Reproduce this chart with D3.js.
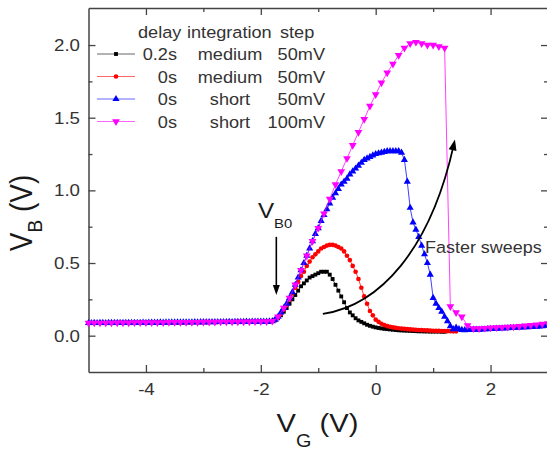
<!DOCTYPE html>
<html><head><meta charset="utf-8">
<script src="https://cdn.jsdelivr.net/npm/d3@7"></script>
<style>
html,body{margin:0;padding:0;background:#fff;}
svg{display:block;}
text{font-family:"Liberation Sans",Arial,sans-serif;}
</style></head><body>
<svg id="chart" width="547" height="451"></svg>
<script>
// ---------------- data ----------------
const xStart = -5;            // first gate voltage of each sweep (V)
const step50 = 0.05;          // 50 mV sweep step
const step100 = 0.1;          // 100 mV sweep step

// flat part of the sweeps, -5 V .. -1.85 V (50 mV step)
const flat50 = [0.087,0.087,0.088,0.087,0.088,0.088,0.087,0.088,0.088,0.088,
  0.088,0.089,0.088,0.089,0.089,0.088,0.089,0.089,0.089,0.090,
  0.089,0.090,0.090,0.090,0.090,0.091,0.090,0.091,0.091,0.091,
  0.091,0.092,0.091,0.092,0.092,0.092,0.092,0.093,0.092,0.093,
  0.093,0.093,0.093,0.094,0.093,0.094,0.094,0.094,0.094,0.095,
  0.094,0.095,0.095,0.095,0.095,0.096,0.095,0.096,0.096,0.096,
  0.096,0.097,0.097,0.098];
// flat part, -5 V .. -1.9 V (100 mV step)
const flat100 = [0.087,0.088,0.088,0.088,0.088,0.089,0.089,0.089,0.090,0.090,
  0.090,0.091,0.091,0.091,0.092,0.092,0.092,0.093,0.093,0.093,
  0.094,0.094,0.094,0.095,0.095,0.095,0.096,0.096,0.096,0.097,
  0.097,0.098];

// 0.2s / medium / 50mV, from -1.8 V to 1.2 V
const blackTail = [0.10,0.105,0.12,0.14,0.165,0.19,0.22,0.25,0.28,0.31,0.34,0.36,0.38,0.40,0.41,0.42,0.43,
  0.44,0.44,0.44,0.42,0.39,0.35,0.31,0.27,0.23,0.19,0.16,0.14,0.12,0.105,0.095,0.085,0.075,0.068,0.062,0.057,
  0.053,0.05,0.047,0.045,0.043,0.041,0.039,0.037,0.036,0.035,0.034,0.033,0.032,0.031,0.03,0.03,0.029,0.029,0.028,0.028,
  0.028,0.028,0.027,0.027];
// 0s / medium / 50mV, from -1.8 V to 1.4 V
const redTail = [0.10,0.11,0.125,0.15,0.18,0.21,0.25,0.29,0.33,0.37,0.41,0.44,0.48,0.51,0.54,0.56,0.58,
  0.60,0.61,0.62,0.625,0.625,0.62,0.61,0.60,0.58,0.55,0.52,0.48,0.44,0.39,0.33,0.27,0.22,0.17,0.14,0.11,
  0.095,0.082,0.073,0.066,0.061,0.057,0.054,0.051,0.049,0.047,0.045,0.043,0.042,0.04,0.039,0.038,0.037,0.036,0.035,0.034,
  0.033,0.033,0.032,0.032,0.031,0.031,0.03,0.03];
// 0s / short / 50mV, from -1.8 V to 3.0 V
const blueTail = [0.10,0.11,0.13,0.16,0.19,0.22,0.26,0.30,0.35,0.40,0.45,0.50,0.55,0.60,0.65,0.70,0.74,
  0.79,0.83,0.87,0.91,0.95,0.98,1.01,1.04,1.06,1.08,1.11,1.13,1.15,1.17,1.19,1.21,1.22,1.23,1.24,1.25,
  1.255,1.26,1.265,1.27,1.27,1.27,1.27,1.27,1.26,1.21,1.06,0.88,0.78,0.73,0.68,0.62,0.56,0.50,0.42,0.26,
  0.22,0.19,0.165,0.13,0.10,0.065,0.045,0.055,0.045,0.04,0.038,0.04,
  0.04,0.041,0.042,0.042,0.043,0.044,0.045,0.046,0.047,0.048,0.049,0.05,0.051,0.052,0.053,0.054,0.055,0.056,0.057,0.058,
  0.059,0.06,0.061,0.062,0.064,0.066,0.068,0.07];
// 0s / short / 100mV, from -1.8 V to 3.0 V
const magentaTail = [0.10,0.13,0.19,0.26,0.35,0.45,0.55,0.65,0.74,0.84,0.94,1.04,1.13,1.22,1.31,1.40,1.49,1.58,1.66,1.74,
  1.81,1.87,1.93,1.98,2.01,2.02,2.01,2.00,2.00,1.99,1.98,
  0.20,0.16,0.13,0.07,0.05,0.05,0.052,0.054,0.056,0.058,0.06,0.062,0.065,0.068,0.072,0.076,0.08,0.084];

const legendHeader = ["delay", "integration", "step"];
const legendDelay = ["0.2s", "0s", "0s", "0s"];
const legendIntegration = ["medium", "medium", "short", "short"];
const legendStep = ["50mV", "50mV", "50mV", "100mV"];

const xTicks = [-4, -2, 0, 2];
const xMinorTicks = [-3, -1, 1];
const yTicks = [0, 0.5, 1.0, 1.5, 2.0];
const yMinorTicks = [0.25, 0.75, 1.25, 1.75];

// ---------------- chart ----------------
const SX = 1.1; // horizontal text stretch of the original picture
const svg = d3.select("#chart");
const pLeft = 88.5, pRight = 548, pTop = 8, pBottom = 372;
const x = d3.scaleLinear().domain([-5, 3]).range([pLeft, pRight]);
const y = d3.scaleLinear().domain([-0.25, 2.255]).range([pBottom, pTop]);
const axisColor = "#444";
const font = '"Liberation Sans", Arial, sans-serif';

function styleAxis(g, keepDomain) {
  if (keepDomain) g.select(".domain").attr("stroke", axisColor).attr("stroke-width", 1.5);
  else g.select(".domain").remove();
  g.selectAll(".tick line").attr("stroke", axisColor).attr("stroke-width", 1.3);
}

// bottom axis
const gx = svg.append("g").attr("transform", `translate(0,${pBottom})`)
  .call(d3.axisBottom(x).tickValues(xTicks).tickSizeInner(-7).tickSizeOuter(0).tickPadding(11).tickFormat(d => String(d)));
styleAxis(gx, true);
gx.selectAll(".tick text").attr("fill", "#333").attr("font-size", 17).attr("font-family", font)
  .attr("transform", `scale(${SX},1)`);
const gxm = svg.append("g").attr("transform", `translate(0,${pBottom})`)
  .call(d3.axisBottom(x).tickValues(xMinorTicks).tickSizeInner(-4).tickSizeOuter(0).tickFormat(""));
styleAxis(gxm, false);

// top axis
const gt = svg.append("g").attr("transform", `translate(0,${pTop})`)
  .call(d3.axisTop(x).tickValues(xTicks).tickSizeInner(-7).tickSizeOuter(0).tickFormat(""));
styleAxis(gt, true);
const gtm = svg.append("g").attr("transform", `translate(0,${pTop})`)
  .call(d3.axisTop(x).tickValues(xMinorTicks).tickSizeInner(-4).tickSizeOuter(0).tickFormat(""));
styleAxis(gtm, false);

// left axis
const gy = svg.append("g").attr("transform", `translate(${pLeft},0)`)
  .call(d3.axisLeft(y).tickValues(yTicks).tickSizeInner(-7).tickSizeOuter(0).tickFormat(d3.format(".1f")));
styleAxis(gy, true);
gy.selectAll(".tick text").attr("fill", "#333").attr("font-size", 17).attr("font-family", font)
  .attr("x", -8.5 / SX).attr("transform", `scale(${SX},1)`);
const gym = svg.append("g").attr("transform", `translate(${pLeft},0)`)
  .call(d3.axisLeft(y).tickValues(yMinorTicks).tickSizeInner(-4).tickSizeOuter(0).tickFormat(""));
styleAxis(gym, false);

// right axis
const gr = svg.append("g").attr("transform", `translate(${pRight},0)`)
  .call(d3.axisRight(y).tickValues(yTicks).tickSizeInner(-7).tickSizeOuter(0).tickFormat(""));
styleAxis(gr, true);
const grm = svg.append("g").attr("transform", `translate(${pRight},0)`)
  .call(d3.axisRight(y).tickValues(yMinorTicks).tickSizeInner(-4).tickSizeOuter(0).tickFormat(""));
styleAxis(grm, false);

// axis titles
const xt = svg.append("text").attr("transform", `translate(317.5,432) scale(${SX},1)`)
  .attr("text-anchor", "middle").attr("fill", "#1a1a1a").attr("font-size", 26.5);
xt.append("tspan").text("V");
xt.append("tspan").attr("font-size", 18).attr("dy", 15).text("G");
xt.append("tspan").attr("dy", -15).text(" (V)");

const yt = svg.append("text").attr("transform", `translate(32,213) scale(${SX},1) rotate(-90)`)
  .attr("text-anchor", "middle").attr("fill", "#1a1a1a").attr("font-size", 28);
yt.append("tspan").text("V");
yt.append("tspan").attr("font-size", 19).attr("dy", 9).text("B");
yt.append("tspan").attr("dy", -9).text(" (V)");

// series
const series = [
  {values: flat50.concat(blackTail), step: step50, color: "#000000", symbol: d3.symbolSquare, size: 15, rot: 0},
  {values: flat50.concat(redTail), step: step50, color: "#ff0000", symbol: d3.symbolCircle, size: 17, rot: 0},
  {values: flat50.concat(blueTail), step: step50, color: "#0000ff", symbol: d3.symbolTriangle, size: 22, rot: 0},
  {values: flat100.concat(magentaTail), step: step100, color: "#ff00ff", symbol: d3.symbolTriangle, size: 26, rot: 180}
];
series.forEach(s => {
  s.points = s.values.map((v, i) => ({gx: +(xStart + i * s.step).toFixed(3), v: v}));
});

const line = d3.line().x(d => x(d.gx)).y(d => y(d.v));
const plot = svg.append("g");
series.forEach(s => {
  const g = plot.append("g");
  g.append("path").attr("d", line(s.points)).attr("fill", "none")
    .attr("stroke", s.color).attr("stroke-width", 1).attr("stroke-opacity", 0.75);
  const sym = d3.symbol().type(s.symbol).size(s.size)();
  g.selectAll("path.m").data(s.points).join("path").attr("class", "m")
    .attr("d", sym)
    .attr("transform", d => `translate(${x(d.gx)},${y(d.v)}) rotate(${s.rot})`)
    .attr("fill", s.color);
});

// legend
const rowY = [54, 76.5, 99, 121.5];
const leg = svg.append("g").attr("fill", "#333").attr("font-size", 16.5);
function stext(g, tx, ty, anchor, str) {
  return g.append("text").attr("transform", `translate(${tx},${ty}) scale(${SX},1)`)
    .attr("text-anchor", anchor).text(str);
}
stext(leg, 138, 38, "start", legendHeader[0]);
stext(leg, 187, 38, "start", legendHeader[1]);
stext(leg, 280, 38, "start", legendHeader[2]);
series.forEach((s, i) => {
  const yy = rowY[i];
  leg.append("line").attr("x1", 97).attr("x2", 135).attr("y1", yy).attr("y2", yy)
    .attr("stroke", s.color).attr("stroke-width", 1).attr("stroke-opacity", 0.6);
  leg.append("path").attr("d", d3.symbol().type(s.symbol).size(s.size)())
    .attr("transform", `translate(116,${yy}) rotate(${s.rot})`).attr("fill", s.color);
  stext(leg, 177, yy + 6, "end", legendDelay[i]);
  stext(leg, 230, yy + 6, "middle", legendIntegration[i]);
  stext(leg, 325, yy + 6, "end", legendStep[i]);
});

// annotations
function arrowHead(g, tx, ty, ux, uy, L, w) {
  const bx = tx - ux * L, by = ty - uy * L;
  const px = -uy, py = ux;
  g.append("path").attr("d", `M${tx},${ty}L${bx + px * w},${by + py * w}L${bx - px * w},${by - py * w}Z`).attr("fill", "#000");
}
const ann = svg.append("g");
// V_B0 label and arrow
const vb0 = ann.append("text").attr("transform", `translate(${x(-2.05)},${y(0.81)}) scale(${SX},1)`)
  .attr("fill", "#1a1a1a").attr("font-size", 22);
vb0.append("tspan").text("V");
vb0.append("tspan").attr("font-size", 13.5).attr("dy", 10).text("B0");
const a0 = {x: x(-1.73), y: y(0.68)}, a1 = {x: x(-1.73), y: y(0.28)};
ann.append("line").attr("x1", a0.x).attr("y1", a0.y).attr("x2", a1.x).attr("y2", a1.y - 6)
  .attr("stroke", "#000").attr("stroke-width", 1.6);
arrowHead(ann, a1.x, a1.y, 0, 1, 10, 3.5);

// curved "Faster sweeps" arrow
const p0 = [x(-0.92), y(0.15)], c1 = [x(0.075), y(0.21)], c2 = [x(0.95), y(0.59)], p3 = [x(1.38), y(1.35)];
const dxv = p3[0] - c2[0], dyv = p3[1] - c2[1], dl = Math.hypot(dxv, dyv);
ann.append("path").attr("d", `M${p0}C${c1} ${c2} ${p3[0] - dxv / dl * 6},${p3[1] - dyv / dl * 6}`)
  .attr("fill", "none").attr("stroke", "#000").attr("stroke-width", 1.8);
arrowHead(ann, p3[0], p3[1], dxv / dl, dyv / dl, 11, 4);
stext(ann, x(0.86), y(0.57), "start", "Faster sweeps").attr("fill", "#333").attr("font-size", 16.3);
</script>
</body></html>
